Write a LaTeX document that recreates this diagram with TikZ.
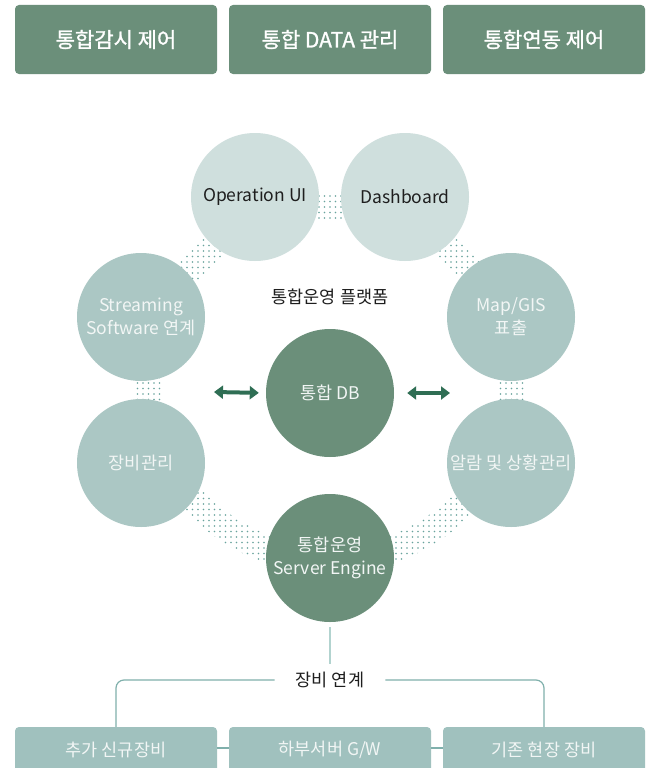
\documentclass[tikz,border=0pt]{standalone}
\usepackage{fontspec}
\setmainfont{Noto Sans CJK KR}
\newfontfamily\krHeavy[FakeBold=1.2]{Noto Sans CJK KR}
\usepackage{tikz}
\usetikzlibrary{arrows.meta,patterns.meta}
\definecolor{boxGreen}{RGB}{107,143,122}
\definecolor{paleTeal}{RGB}{207,223,221}
\definecolor{midTeal}{RGB}{171,199,196}
\definecolor{baseTeal}{RGB}{160,193,190}
\definecolor{lineTeal}{RGB}{128,176,172}
\definecolor{stemTeal}{RGB}{178,211,207}
\definecolor{dotTeal}{RGB}{104,163,157}
\definecolor{arrowGreen}{RGB}{47,110,84}
\definecolor{inkGrey}{RGB}{30,30,30}
\definecolor{paleInk}{RGB}{242,246,245}
\newcommand{\mySize}[1]{\fontsize{#1}{23}\selectfont}
\newcommand{\myTopBoxes}{%%
  %% Draw the three boxes along the top.
  \node[topBoxStyle] (monitor) at (116,39.5) {통합감시 제어};
  \node[topBoxStyle] (dataMgmt) at (330,39.5) {통합 DATA 관리};
  \node[topBoxStyle] (interlock) at (544,39.5) {통합연동 제어};
}
\newcommand{\myRing}{%%
  %% Draw the dotted band that links the circles.
  \fill[bandStyle,even odd rule]
  (ringCentre) ellipse[x radius=\outerA pt, y radius=\outerB pt]
  (ringCentre) ellipse[x radius=\innerA pt, y radius=\innerB pt];
  %% Label the inside of the ring.
  \node[textStyle] (platform) at (330,297) {통합운영 플랫폼};
  %% The circles on the ring.
  \node[paleCircle] (opUI) at (255,197) {Operation UI};
  \node[paleCircle] (dashboard) at (405,197) {Dashboard};
  \node[midCircle] (streaming) at (141,317) {Streaming\\Software 연계};
  \node[midCircle] (mapGIS) at (511,317) {Map/GIS\\표출};
  \node[midCircle] (equip) at (141,463) {장비관리};
  \node[midCircle] (alarm) at (511,463) {알람 및 상황관리};
  \node[darkCircle] (engine) at (330,558) {통합운영\\Server Engine};
  %% The database in the middle.
  \node[darkCircle] (db) at (330,393) {통합 DB};
  \draw[arrowStyle] (leftTip) -- (db.west);
  \draw[arrowStyle,shorten <=13pt,shorten >=0pt] (db.east) -- (rightTip);
}
\newcommand{\myBaseBoxes}{%%
  %% Draw the devices along the bottom.
  \node[baseBoxStyle] (newDev) at (116,750) {추가 신규장비};
  \node[baseBoxStyle] (gateway) at (330,750) {하부서버 G/W};
  \node[baseBoxStyle] (legacy) at (544,750) {기존 현장 장비};
  \draw[lineStyle] ([yshift=2pt]newDev.east) -- ([yshift=2pt]gateway.west);
  \draw[lineStyle] ([yshift=2pt]gateway.east) -- ([yshift=2pt]legacy.west);
  %% Link the engine to the devices.
  \node[textStyle,inner xsep=21pt] (link) at (330,680) {장비 연계};
  \draw[stemStyle] (engine.south) -- (link.north);
  \draw[lineStyle,rounded corners=8pt] (link.west) -| (newDev.north);
  \draw[lineStyle,rounded corners=8pt] (link.east) -| (legacy.north);
}

\begin{document}
\begin{tikzpicture}[%%
  x=1pt,y=-1pt,
  topBoxStyle/.style={fill=boxGreen,text=white,rounded corners=4pt,
    minimum width=202pt,minimum height=69pt,inner sep=0pt,font=\krHeavy\mySize{21}},
  baseBoxStyle/.style={fill=baseTeal,text=paleInk,rounded corners=4pt,
    minimum width=202pt,minimum height=46pt,inner sep=0pt,font=\mySize{17.5}},
  circleStyle/.style={circle,minimum size=2*\radius pt,inner sep=0pt,
    align=center,font=\mySize{17.5}},
  paleCircle/.style={circleStyle,fill=paleTeal,text=inkGrey},
  midCircle/.style={circleStyle,fill=midTeal,text=paleInk},
  darkCircle/.style={circleStyle,fill=boxGreen,text=paleInk},
  textStyle/.style={text=inkGrey,font=\mySize{17.5},inner sep=0pt},
  bandStyle/.style={pattern={Dots[distance=5.5pt,radius=0.95pt]},pattern color=dotTeal},
  lineStyle/.style={draw=lineTeal,line width=1.2pt},
  stemStyle/.style={draw=stemTeal,line width=1.8pt,shorten <=5pt,shorten >=8pt},
  arrowStyle/.style={draw=arrowGreen,line width=4pt,shorten >=7pt,
    {Triangle[length=9pt,width=13pt]}-{Triangle[length=9pt,width=13pt]}}
]
%%
%%
\pgfmathsetmacro{\radius}{64}
\pgfmathsetmacro{\ringA}{181}
\pgfmathsetmacro{\ringB}{177}
\pgfmathsetmacro{\band}{13.5}
\pgfmathsetmacro{\outerA}{\ringA+\band}
\pgfmathsetmacro{\outerB}{\ringB+\band}
\pgfmathsetmacro{\innerA}{\ringA-\band}
\pgfmathsetmacro{\innerB}{\ringB-\band}
\fill[white] (0,0) rectangle (650,768);
\useasboundingbox (0,0) rectangle (650,768);
\coordinate (ringCentre) at (330,383);
\coordinate (leftTip) at (214,392);
\coordinate (rightTip) at (450,393);
%%
%% Draw the whole platform.
\myTopBoxes
\myRing
\myBaseBoxes
\end{tikzpicture}
\end{document}
